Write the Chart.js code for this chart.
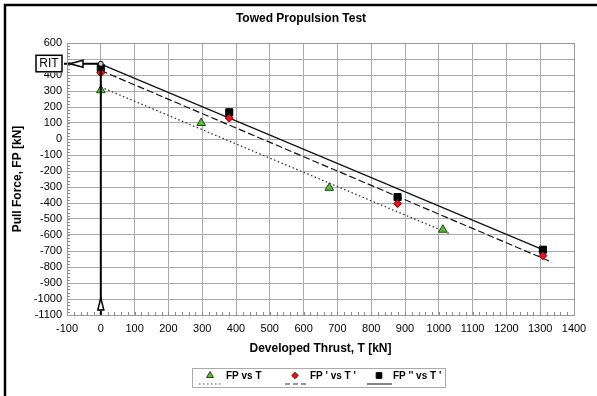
<!DOCTYPE html>
<html>
<head>
<meta charset="utf-8">
<script src="https://cdn.jsdelivr.net/npm/chart.js@4.4.0/dist/chart.umd.min.js"></script>
<style>
  html, body { margin: 0; padding: 0; background: #fff; }
  #wrap { width: 597px; height: 396px; }
</style>
</head>
<body>
<div id="wrap"><canvas id="towed-chart" width="597" height="396"></canvas></div>
<script>
// measured points
const thrustT = [0, 297, 676, 1012];
const pullFP = [305, 100, -305, -567];
const thrustTp = [0, 380, 878, 1308];
const pullFPp = [414, 131, -404, -729];
const pullFPpp = [444, 167, -363, -692];

// trend line end points
const trendT = [0, 1034];
const trendFP = [325, -594];
const trendTp = [0, 1335];
const trendFPp = [428, -770];
const trendTpp = [0, 1306];
const trendFPpp = [468, -690];

// RIT marker
const ritT = 0;
const ritFP = 470;

const xTicks = { min: -100, max: 1400, step: 100 };
const yTicks = { min: -1100, max: 600, step: 100 };

const legendItems = ['FP vs T', "FP ' vs T '", "FP '' vs T '"];

const toXY = (xs, ys) => xs.map((x, i) => ({ x, y: ys[i] }));
const FONT = '"Liberation Sans", Arial, sans-serif';

function arrowHead(ctx, tipX, tipY, dir, len, half) {
  // open triangle arrow head, dir: 'left' | 'up'
  ctx.beginPath();
  if (dir === 'left') {
    ctx.moveTo(tipX, tipY);
    ctx.lineTo(tipX + len, tipY - half);
    ctx.lineTo(tipX + len, tipY + half);
  } else {
    ctx.moveTo(tipX, tipY);
    ctx.lineTo(tipX - half, tipY + len);
    ctx.lineTo(tipX + half, tipY + len);
  }
  ctx.closePath();
  ctx.fillStyle = '#fff';
  ctx.fill();
  ctx.stroke();
}

const decor = {
  id: 'decor',
  beforeDraw(chart) {
    const { ctx } = chart;
    ctx.save();
    ctx.fillStyle = '#fff';
    ctx.fillRect(0, 0, chart.width, chart.height);
    ctx.restore();
  },
  afterDatasetsDraw(chart) {
    const { ctx, chartArea: a, scales: { x, y } } = chart;
    ctx.save();

    // minor ticks
    ctx.strokeStyle = '#888';
    ctx.lineWidth = 1;
    ctx.beginPath();
    for (let v = xTicks.min; v <= xTicks.max; v += 20) {
      const px = Math.round(x.getPixelForValue(v)) + 0.5;
      ctx.moveTo(px, a.bottom);
      ctx.lineTo(px, a.bottom - 3);
    }
    for (let v = yTicks.min; v <= yTicks.max; v += 20) {
      const py = Math.round(y.getPixelForValue(v)) + 0.5;
      ctx.moveTo(a.left, py);
      ctx.lineTo(a.left + 3, py);
    }
    ctx.stroke();

    // RIT arrows
    const x0 = x.getPixelForValue(ritT);
    const yr = y.getPixelForValue(ritFP);
    const boxR = a.left - 5;
    ctx.strokeStyle = '#000';
    ctx.lineWidth = 2;
    ctx.beginPath();
    ctx.moveTo(x0, yr);
    ctx.lineTo(boxR, yr);
    ctx.moveTo(x0, yr);
    ctx.lineTo(x0, a.bottom);
    ctx.stroke();
    ctx.lineWidth = 1.5;
    arrowHead(ctx, boxR + 8, yr, 'left', 13, 3.5);
    arrowHead(ctx, x0, a.bottom - 17, 'up', 12, 3);

    // RIT box, covers the 500 label like in the source
    ctx.fillStyle = '#fff';
    ctx.fillRect(boxR - 28, yr - 11, 30, 20);
    ctx.lineWidth = 1.5;
    ctx.strokeRect(boxR - 26, yr - 8.5, 26, 16.5);
    ctx.fillStyle = '#000';
    ctx.font = '12px ' + FONT;
    ctx.textAlign = 'center';
    ctx.textBaseline = 'middle';
    ctx.fillText('RIT', boxR - 13, yr);

    // small circle at the RIT point
    ctx.beginPath();
    ctx.arc(x0, yr, 2.5, 0, Math.PI * 2);
    ctx.fillStyle = '#ccc';
    ctx.fill();
    ctx.lineWidth = 1;
    ctx.stroke();

    // title and axis titles
    ctx.fillStyle = '#000';
    ctx.font = 'bold 12px ' + FONT;
    ctx.textAlign = 'center';
    ctx.fillText('Towed Propulsion Test', 301, 19);
    ctx.fillText('Developed Thrust, T [kN]', (a.left + a.right) / 2, 349);
    ctx.save();
    ctx.translate(18, (a.top + a.bottom) / 2);
    ctx.rotate(-Math.PI / 2);
    ctx.fillText('Pull Force, FP [kN]', 0, 0);
    ctx.restore();

    // legend
    ctx.strokeStyle = '#aaa';
    ctx.lineWidth = 1;
    ctx.strokeRect(192.5, 368.5, 253, 19);
    const slots = [
      { mx: 210, tx: 226, lx0: 199, lx1: 222, dash: [1.5, 2.5], ds: chart.data.datasets[0] },
      { mx: 295, tx: 310, lx0: 285, lx1: 306, dash: [5, 3], ds: chart.data.datasets[1] },
      { mx: 379, tx: 393, lx0: 367, lx1: 392, dash: [], ds: chart.data.datasets[2] },
    ];
    slots.forEach((s, i) => {
      ctx.save();
      ctx.fillStyle = s.ds.backgroundColor;
      ctx.strokeStyle = s.ds.borderColor;
      ctx.lineWidth = 1;
      Chart.helpers.drawPoint(ctx, {
        pointStyle: s.ds.pointStyle,
        radius: s.ds.pointRadius * 0.8,
        borderWidth: 1,
        rotation: 0,
      }, s.mx, 375.5);
      ctx.restore();
      ctx.beginPath();
      ctx.setLineDash(s.dash);
      ctx.strokeStyle = s.dash.length && s.dash[0] < 2 ? '#555' : '#333';
      ctx.lineWidth = 1.2;
      ctx.moveTo(s.lx0, 384);
      ctx.lineTo(s.lx1, 384);
      ctx.stroke();
      ctx.setLineDash([]);
      ctx.fillStyle = '#000';
      ctx.font = 'bold 10px ' + FONT;
      ctx.textAlign = 'left';
      ctx.textBaseline = 'middle';
      ctx.fillText(legendItems[i], s.tx, 376);
    });

    ctx.restore();

    // outer frame
    ctx.save();
    ctx.strokeStyle = '#000';
    ctx.lineWidth = 2.5;
    ctx.beginPath();
    ctx.moveTo(5, chart.height);
    ctx.lineTo(5, 5);
    ctx.lineTo(chart.width, 5);
    ctx.stroke();
    ctx.restore();
  },
};

const ctx = document.getElementById('towed-chart').getContext('2d');

new Chart(ctx, {
  type: 'scatter',
  data: {
    datasets: [
      {
        label: 'FP vs T',
        data: toXY(thrustT, pullFP),
        pointStyle: 'triangle',
        pointRadius: 5,
        backgroundColor: '#5fba3c',
        borderColor: '#1d4d10',
        borderWidth: 1,
        order: 1,
      },
      {
        label: "FP ' vs T '",
        data: toXY(thrustTp, pullFPp),
        pointStyle: 'rectRot',
        pointRadius: 4,
        backgroundColor: '#e8141c',
        borderColor: '#7a0000',
        borderWidth: 1,
        order: 1,
      },
      {
        label: "FP '' vs T '",
        data: toXY(thrustTp, pullFPpp),
        pointStyle: 'rect',
        pointRadius: 5,
        backgroundColor: '#000',
        borderColor: '#000',
        borderWidth: 1,
        order: 1,
      },
      {
        type: 'line',
        data: toXY(trendT, trendFP),
        borderColor: '#333',
        borderWidth: 1.3,
        borderDash: [1.5, 2.5],
        pointRadius: 0,
        order: 2,
      },
      {
        type: 'line',
        data: toXY(trendTp, trendFPp),
        borderColor: '#111',
        borderWidth: 1.2,
        borderDash: [7, 3],
        pointRadius: 0,
        order: 2,
      },
      {
        type: 'line',
        data: toXY(trendTpp, trendFPpp),
        borderColor: '#111',
        borderWidth: 1.2,
        pointRadius: 0,
        order: 2,
      },
    ],
  },
  options: {
    responsive: false,
    animation: false,
    layout: { padding: { top: 43, right: 23, bottom: 0, left: 0 } },
    plugins: {
      legend: { display: false },
      tooltip: { enabled: false },
    },
    scales: {
      x: {
        type: 'linear',
        min: xTicks.min,
        max: xTicks.max,
        ticks: {
          stepSize: xTicks.step,
          autoSkip: false,
          color: '#000',
          padding: 7,
          maxRotation: 0,
          font: { family: FONT, size: 11 },
          callback: v => String(v),
        },
        grid: { color: '#aaa', lineWidth: 1, drawTicks: false },
        border: { color: '#999', width: 1 },
        afterFit(scale) { scale.height = 81; },
      },
      y: {
        type: 'linear',
        min: yTicks.min,
        max: yTicks.max,
        ticks: {
          stepSize: yTicks.step,
          autoSkip: false,
          color: '#000',
          padding: 5,
          font: { family: FONT, size: 11 },
          callback: v => String(v),
        },
        grid: { color: '#aaa', lineWidth: 1, drawTicks: false },
        border: { color: '#999', width: 1 },
        afterFit(scale) { scale.width = 67; },
      },
    },
  },
  plugins: [
    decor,
    {
      id: 'plotBorder',
      afterDraw(chart) {
        const { ctx, chartArea: a } = chart;
        ctx.save();
        ctx.strokeStyle = '#999';
        ctx.lineWidth = 1;
        ctx.strokeRect(a.left + 0.5, a.top + 0.5, a.right - a.left, a.bottom - a.top);
        ctx.restore();
      },
    },
  ],
});
</script>
</body>
</html>
